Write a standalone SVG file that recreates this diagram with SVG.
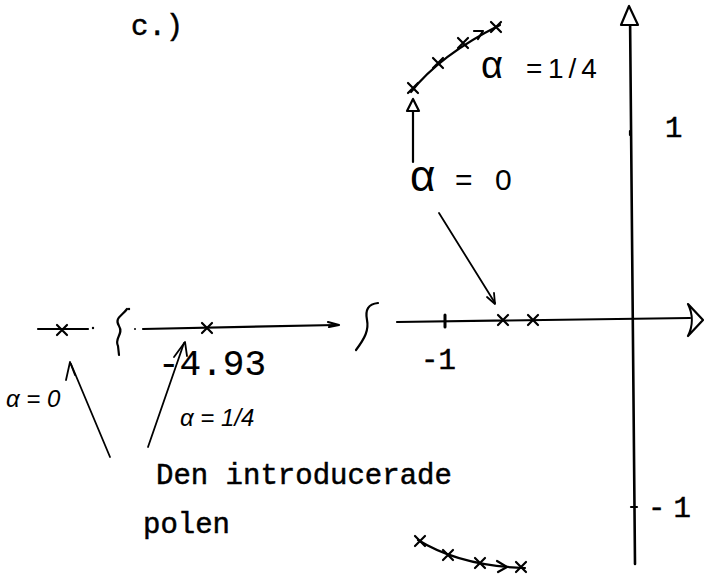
<svg xmlns="http://www.w3.org/2000/svg" width="704" height="577" viewBox="0 0 704 577">
<style>
.ln{fill:none;stroke:#000;stroke-width:2.2;stroke-linecap:round;stroke-linejoin:round}
.thin{fill:none;stroke:#000;stroke-width:1.8;stroke-linecap:round;stroke-linejoin:round}
.open{fill:#fff;stroke:#000;stroke-width:2.2;stroke-linejoin:round}
.mono{font-family:"Liberation Mono",monospace;font-size:29px;fill:#000;stroke:#000;stroke-width:0.5}
.sans{font-family:"Liberation Sans",sans-serif;fill:#000}
.hand{font-family:"Liberation Sans",sans-serif;font-style:italic;fill:#000}
</style>
<defs>
<path id="cross" d="M-5,-5 L5,5 M5,-5 L-5,5" class="ln"/>
</defs>
<rect width="704" height="577" fill="#fff"/>

<g id="axes">
  <path class="ln" d="M630,12 L635,564" style="stroke-width:2.6"/>
  <path class="open" d="M629,6 L621,25 L638,25 Z"/>
  <path class="ln" d="M630,131 L630,135"/>
  <path class="ln" d="M631,507 L637,507"/>
  <path class="ln" d="M38,329 L88,329"/>
  <circle cx="93" cy="328" r="1.2"/>
  <path class="ln" d="M127,309 C122,316 114,318 119,326 C124,334 114,338 118,346 L119,355"/>
  <circle cx="129" cy="309" r="1.2"/>
  <circle cx="135" cy="329" r="1"/>
  <path class="ln" d="M143,329 L336,325"/>
  <path class="ln" d="M328,322 L339,325 L329,327"/>
  <path class="ln" d="M378,303 C368,304 365,310 367,320 C369,330 365,338 356,350"/>
  <path class="ln" d="M397,322 L690,318"/>
  <path class="open" d="M688,304 L703,320 L688,336 C693,326 693,314 688,304 Z"/>
  <path class="ln" d="M445,315 L445,327" style="stroke-width:3"/>
  <use href="#cross" x="62" y="330"/>
  <use href="#cross" x="207" y="328"/>
  <use href="#cross" x="503" y="320"/>
  <use href="#cross" x="533" y="320"/>
</g>

<g id="locus-upper">
  <path class="ln" d="M411,92 Q440,55 500,25"/>
  <use href="#cross" x="413" y="88"/>
  <use href="#cross" x="438" y="63"/>
  <use href="#cross" x="463" y="43"/>
  <use href="#cross" x="496" y="27"/>
  <path class="ln" d="M474,31 L483,31 L478,39"/>
</g>

<g id="locus-lower">
  <path class="ln" d="M418,540 Q460,566 525,568"/>
  <use href="#cross" x="420" y="541"/>
  <use href="#cross" x="448" y="555"/>
  <use href="#cross" x="480" y="563"/>
  <use href="#cross" x="521" y="567"/>
  <path class="ln" d="M497,561 L507,567 L498,572"/>
</g>

<g id="connectors">
  <path class="ln" d="M413,162 L413,108"/>
  <path class="open" d="M413,99 L407,111 L419,111 Z"/>
  <path class="thin" d="M439,213 L495,303"/>
  <path class="thin" d="M487,297 L495,304 L494,293"/>
  <path class="thin" d="M110,457 L71,364"/>
  <path class="thin" d="M66,380 L70,362 L75,375"/>
  <path class="thin" d="M148,447 L184,343"/>
  <path class="thin" d="M174,357 L185,342 L187,356"/>
</g>

<g id="labels">
  <text class="mono" x="131" y="35">c.)</text>
  <text class="mono" x="665" y="137">1</text>
  <text class="mono" x="421" y="369">-1</text>
  <text class="mono" x="648" y="517" letter-spacing="8">-1</text>
  <text class="mono" x="158" y="375" style="font-size:36px;stroke-width:0.2">-4.93</text>
  <text class="mono" x="156" y="484">Den introducerade</text>
  <text class="mono" x="143" y="533">polen</text>
  <text class="sans" x="410" y="191" style="font-size:44px">α</text>
  <text class="sans" x="455" y="190" style="font-size:30px">=</text>
  <text class="sans" x="495" y="190" style="font-size:30px">0</text>
  <text class="sans" x="481" y="78" style="font-size:38px">α</text>
  <text class="sans" x="526" y="78" style="font-size:28px">=</text>
  <text class="sans" x="548" y="78" style="font-size:28px" letter-spacing="5">1/4</text>
  <text class="hand" x="6" y="407" style="font-size:24px">α = 0</text>
  <text class="hand" x="180" y="426" style="font-size:24px">α = 1/4</text>
</g>
</svg>
